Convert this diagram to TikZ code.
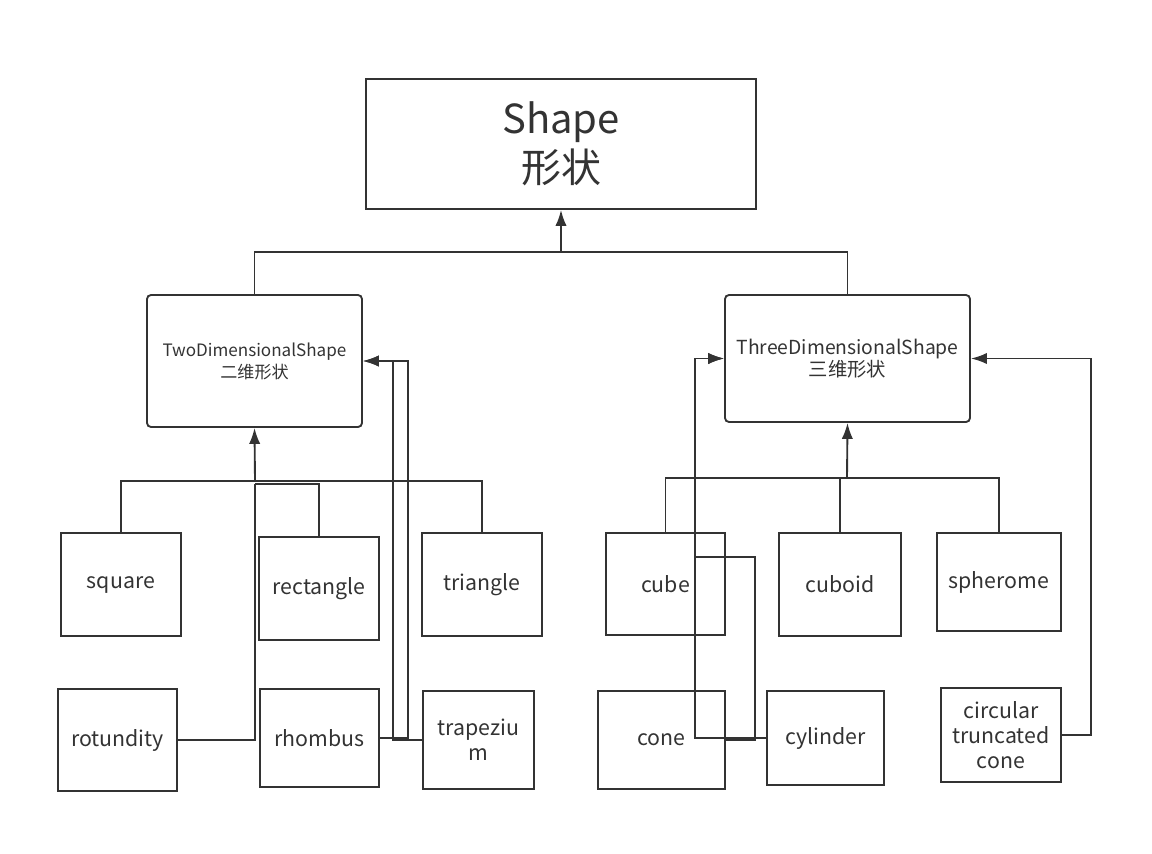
\documentclass[tikz,border=0pt]{standalone}
\usepackage{fontspec}
\setmainfont{Noto Sans CJK SC}
\usepackage{tikz}
\usetikzlibrary{arrows.meta}

\definecolor{linegray}{HTML}{333333}

\begin{document}
\begin{tikzpicture}[x=0.75pt,y=-0.75pt]

\tikzset{shape box/.style 2 args={
    draw=linegray,
    line width=1.4pt,
    minimum width=#1*0.75pt,
    minimum height=#2*0.75pt,
    anchor=center,
    align=center,
    inner sep=0pt,
    text=linegray,
    font=\fontsize{16}{19}\selectfont
  },
  group box/.style 2 args={
    shape box={#1}{#2},
    rounded corners=3pt,
    font=\fontsize{12.8}{16.5}\selectfont
  },
  link/.style={draw=linegray, line width=1.4pt},
  inherit/.style={link, -{Latex[length=12pt,width=8.5pt]}}
}

\useasboundingbox (0,0) rectangle (1152,853);

\node[shape box={390}{130}, font=\fontsize{30}{37}\selectfont] (shape) at (561,144) {Shape\\形状};

\node[group box={215}{132}] (twod) at (254.5,361) {TwoDimensionalShape\\二维形状};
\node[group box={245}{127}, font=\fontsize{14.5}{17}\selectfont] (threed) at (847.5,358.5) {ThreeDimensionalShape\\三维形状};

\node[shape box={120}{103}] (square) at (121,584.5) {square};
\node[shape box={120}{103}] (rectangle) at (319,588.5) {rectangle};
\node[shape box={120}{103}] (triangle) at (482,584.5) {triangle};
\node[shape box={119}{102}] (rotundity) at (117.5,740) {rotundity};
\node[shape box={119}{98}] (rhombus) at (319.5,738) {rhombus};
\node[shape box={111}{98}] (trapezium) at (478.5,740) {trapeziu\\m};

\node[shape box={119}{102}] (cube) at (665.5,584) {cube};
\node[shape box={122}{103}] (cuboid) at (840,584.5) {cuboid};
\node[shape box={124}{98}] (spherome) at (999,582) {spherome};
\node[shape box={127}{98}] (cone) at (661.5,740) {cone};
\node[shape box={117}{94}] (cylinder) at (825.5,738) {cylinder};
\node[shape box={120}{94}] (ctcone) at (1001,735) {circular\\truncated\\cone};

\coordinate (shape bus) at (561,252);
\coordinate (twod bus) at (255,481);
\coordinate (twod join) at (255,484);
\coordinate (threed bus) at (847,478);
\coordinate (rhombus bend) at (408,361);
\coordinate (trapezium bend) at (393,361);
\coordinate (cone bend) at (755,557);
\coordinate (threed bend) at (695,358.5);
\coordinate (ctcone bend) at (1091,358.5);

\draw[link] (twod.north) |- (shape bus) -| (threed.north);
\draw[inherit] (shape bus) -- (shape.south);

\draw[link] (square.north) |- (twod bus) -| (triangle.north);
\draw[link] (rectangle.north) |- (twod join);
\draw[link] (rotundity.east) -| (twod join);
\draw[inherit] (twod bus) -- (twod.south);
\draw[inherit] (rhombus.east) -| (rhombus bend) -- (twod.east);
\draw[inherit] (trapezium.west) -| (trapezium bend) -- (twod.east);

\draw[link] (cube.north) |- (threed bus) -| (spherome.north);
\draw[link] (cuboid.north) -- (cuboid.north |- threed bus);
\draw[inherit] (threed bus) -- (threed.south);
\draw[inherit] (cone.east) -| (cone bend) -| (threed bend) -- (threed.west);
\draw[inherit] (cylinder.west) -| (threed bend) -- (threed.west);
\draw[inherit] (ctcone.east) -| (ctcone bend) -- (threed.east);

\end{tikzpicture}
\end{document}
